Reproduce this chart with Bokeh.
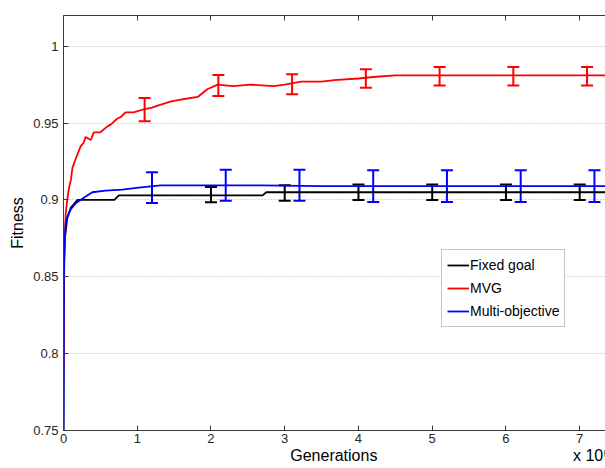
from bokeh.plotting import figure
from bokeh.models import (Range1d, FixedTicker, LinearAxis, Whisker, TeeHead,
                          ColumnDataSource, Legend, LegendItem)
from bokeh.embed import file_html
from bokeh.resources import INLINE

# ---- data (generations in units of 1e5) ----
mvg_x = [0, 0.005, 0.01, 0.02, 0.03, 0.05, 0.076, 0.1, 0.122, 0.16, 0.2, 0.234,
         0.27, 0.3, 0.37, 0.41, 0.5, 0.6, 0.64, 0.73, 0.78, 0.84, 0.95, 1.09,
         1.2, 1.32, 1.45, 1.55, 1.68, 1.82, 1.95, 2.09, 2.3, 2.54, 2.85, 3.0,
         3.22, 3.5, 3.67, 4.0, 4.2, 4.5, 5.0, 6.0, 7.0, 7.4]
mvg_y = [0.79, 0.84, 0.862, 0.878, 0.891, 0.900, 0.908, 0.913, 0.921, 0.926,
         0.931, 0.935, 0.937, 0.941, 0.939, 0.944, 0.944, 0.948, 0.949, 0.953,
         0.954, 0.957, 0.957, 0.959, 0.960, 0.962, 0.964, 0.965, 0.966, 0.967,
         0.972, 0.975, 0.974, 0.975, 0.974, 0.975, 0.977, 0.977, 0.978, 0.979,
         0.980, 0.981, 0.981, 0.981, 0.981, 0.981]

multi_x = [0, 0.003, 0.006, 0.01, 0.02, 0.03, 0.06, 0.1, 0.17, 0.26, 0.39, 0.57,
           0.8, 1.02, 1.32, 1.77, 2.2, 2.67, 3.5, 4.5, 5.5, 6.5, 7.4]
multi_y = [0.745, 0.80, 0.85, 0.868, 0.878, 0.885, 0.890, 0.894, 0.898, 0.901,
           0.905, 0.906, 0.9067, 0.908, 0.9095, 0.9095, 0.9095, 0.9095, 0.909,
           0.909, 0.909, 0.909, 0.909]

fixed_x = [0, 0.005, 0.01, 0.02, 0.05, 0.1, 0.19, 0.69, 0.75, 2.7, 2.75, 7.4]
fixed_y = [0.745, 0.82, 0.86, 0.875, 0.888, 0.895, 0.900, 0.900, 0.903, 0.903,
           0.905, 0.905]

mvg_err_x = [1.1, 2.1, 3.1, 4.1, 5.1, 6.1, 7.1]
mvg_err_m = [0.9588, 0.9745, 0.9753, 0.979, 0.9805, 0.9805, 0.9805]
mvg_err_s = [0.0076, 0.0068, 0.0065, 0.006, 0.006, 0.006, 0.006]

fixed_err_x = [2, 3, 4, 5, 6, 7]
fixed_err_m = [0.9035, 0.9045, 0.905, 0.905, 0.905, 0.905]
fixed_err_s = [0.005, 0.005, 0.005, 0.005, 0.005, 0.005]

multi_err_x = [1.2, 2.2, 3.2, 4.2, 5.2, 6.2, 7.2]
multi_err_m = [0.908, 0.9095, 0.9095, 0.909, 0.909, 0.909, 0.909]
multi_err_s = [0.010, 0.0101, 0.0101, 0.0103, 0.0103, 0.0103, 0.0103]

x_ticks = [0, 1, 2, 3, 4, 5, 6, 7]
y_ticks = [0.75, 0.8, 0.85, 0.9, 0.95, 1.0]
y_tick_labels = ["0.75", "0.8", "0.85", "0.9", "0.95", "1"]
x_title = "Generations"
x_multiplier = "x 10\u2075"

FONT = "Liberation Sans"
TXT = "#262626"
AX = "#3a3a3a"

p = figure(width=605, height=468, output_backend="svg", toolbar_location=None,
           x_range=Range1d(0, 7.35), y_range=Range1d(0.75, 1.02),
           min_border_left=63, min_border_right=0, min_border_top=15,
           min_border_bottom=38, background_fill_color="white",
           border_fill_color="white")
p.outline_line_color = None

# axes
for ax in (p.xaxis[0], p.yaxis[0]):
    ax.major_tick_in = 5
    ax.major_tick_out = 0
    ax.minor_tick_line_color = None
    ax.axis_line_color = AX
    ax.major_tick_line_color = AX
    ax.major_label_text_font = FONT
    ax.major_label_text_font_size = "13px"
    ax.major_label_text_color = TXT
    ax.axis_label_text_font = FONT
    ax.axis_label_text_font_size = "16px"
    ax.axis_label_text_font_style = "normal"
    ax.axis_label_text_color = "black"

# x-axis label: "Generations" centred, the "x 10^5" multiplier at the right end
NB = "\u00a0"
p.xaxis.ticker = FixedTicker(ticks=x_ticks)
p.xaxis.major_label_overrides = {t: str(t) for t in x_ticks}
p.xaxis.axis_label = NB * 52 + x_title + NB * 44 + x_multiplier
p.xaxis.major_label_standoff = 3
p.xaxis.axis_label_standoff = 1

p.yaxis.ticker = FixedTicker(ticks=y_ticks)
p.yaxis.major_label_overrides = {t: l for t, l in zip(y_ticks, y_tick_labels)}
p.yaxis.axis_label = "Fitness"
p.yaxis.major_label_standoff = 5
p.yaxis.axis_label_standoff = 4

top = LinearAxis(ticker=FixedTicker(ticks=x_ticks), major_tick_in=5,
                 major_tick_out=0, minor_tick_line_color=None,
                 axis_line_color=AX, major_tick_line_color=AX,
                 major_label_overrides={t: "" for t in x_ticks},
                 major_label_text_font_size="1px", major_label_standoff=0)
p.add_layout(top, "above")

p.xgrid.grid_line_color = None
p.ygrid.ticker = FixedTicker(ticks=y_ticks)
p.ygrid.grid_line_color = "#b5b5b5"
p.ygrid.grid_line_dash = "1 2"

# curves
r_fixed = p.line(fixed_x, fixed_y, line_color="black", line_width=1.8)
r_mvg = p.line(mvg_x, mvg_y, line_color="#ff0000", line_width=1.8)
r_multi = p.line(multi_x, multi_y, line_color="#0000ff", line_width=1.8)

def errbars(xs, ms, ss, color):
    src = ColumnDataSource(dict(x=xs, lo=[m - s for m, s in zip(ms, ss)],
                                hi=[m + s for m, s in zip(ms, ss)]))
    w = Whisker(source=src, base="x", lower="lo", upper="hi",
                line_color=color, line_width=2,
                upper_head=TeeHead(size=12, line_color=color, line_width=2),
                lower_head=TeeHead(size=12, line_color=color, line_width=2))
    p.add_layout(w)

errbars(fixed_err_x, fixed_err_m, fixed_err_s, "black")
errbars(mvg_err_x, mvg_err_m, mvg_err_s, "#ff0000")
errbars(multi_err_x, multi_err_m, multi_err_s, "#0000ff")

legend = Legend(items=[LegendItem(label="Fixed goal", renderers=[r_fixed]),
                       LegendItem(label="MVG", renderers=[r_mvg]),
                       LegendItem(label="Multi-objective", renderers=[r_multi])],
                location=(378, 103))
legend.label_text_font = FONT
legend.label_text_font_size = "14px"
legend.label_text_color = "black"
legend.glyph_width = 22
legend.glyph_height = 20
legend.label_height = 20
legend.label_standoff = 1
legend.spacing = 3
legend.padding = 5
legend.margin = 0
legend.border_line_color = "#8a8a8a"
legend.border_line_width = 1
legend.background_fill_alpha = 1
p.add_layout(legend, "center")

open("out.html", "w").write(file_html(p, INLINE))
